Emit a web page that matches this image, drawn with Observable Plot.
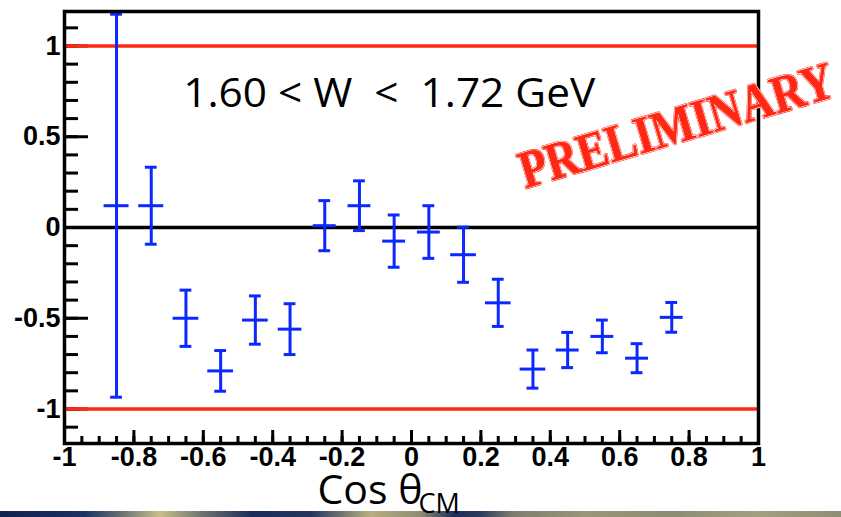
<!DOCTYPE html>
<html>
<head>
<meta charset="utf-8">
<script src="https://cdn.jsdelivr.net/npm/d3@7"></script>
<script src="https://cdn.jsdelivr.net/npm/@observablehq/plot@0.6"></script>
<style>
  html, body { margin: 0; padding: 0; background: #fff; }
  #wrap { position: relative; width: 841px; height: 517px; overflow: hidden; }
  #bar { position: absolute; left: 0; top: 511px; width: 841px; height: 6px; z-index: 0;
    background: linear-gradient(to right, #12224f 0%, #1b3263 10%, #5f6a70 14%, #c9bf8a 19%, #6f7470 24%, #1a2c5a 30%, #24365f 37%, #b7ae7f 44%, #8e8c72 50%, #1c2d58 54%, #2a3a5e 57%, #7d7e6c 61%, #9a9678 70%, #8c8b73 80%, #a49f80 90%, #8f8d75 100%); }
  #chart { position: relative; z-index: 1; }
  #chart svg { overflow: visible; }
</style>
</head>
<body>
<div id="wrap"><div id="bar"></div><div id="chart"></div></div>
<script>
// Bin centres (cos theta_CM)
const cosTheta = [-0.85, -0.75, -0.65, -0.55, -0.45, -0.35, -0.25, -0.15, -0.05, 0.05, 0.15, 0.25, 0.35, 0.45, 0.55, 0.65, 0.75];
// Measured values
const values   = [0.12, 0.12, -0.50, -0.79, -0.51, -0.56, 0.01, 0.12, -0.075, -0.025, -0.15, -0.415, -0.78, -0.675, -0.60, -0.72, -0.495];
// Vertical (statistical) errors
const yErrors  = [1.055, 0.212, 0.155, 0.112, 0.133, 0.140, 0.138, 0.137, 0.144, 0.145, 0.152, 0.130, 0.105, 0.097, 0.090, 0.080, 0.082];
// Horizontal half-widths
const xErrors  = [0.036, 0.036, 0.037, 0.037, 0.037, 0.034, 0.033, 0.033, 0.033, 0.033, 0.037, 0.037, 0.037, 0.033, 0.033, 0.033, 0.033];

// Reference lines
const limitLines = [1, -1];
const zeroLine = [0];

// Axis ticks and labels
const xTickValues = [-1, -0.8, -0.6, -0.4, -0.2, 0, 0.2, 0.4, 0.6, 0.8, 1];
const xTickLabels = ["-1", "-0.8", "-0.6", "-0.4", "-0.2", "0", "0.2", "0.4", "0.6", "0.8", "1"];
const xMinorTicks = d3.range(-20, 21).map(i => i / 20);
const yTickValues = [-1, -0.5, 0, 0.5, 1];
const yTickLabels = ["-1", "-0.5", "0", "0.5", "1"];
const yMinorTicks = d3.range(-11, 12).map(i => i / 10);

// Texts
const rangeLabel = "1.60 < W\u00a0\u00a0<\u00a0\u00a01.72 GeV";
const xLabelMain = "Cos θ";
const xLabelSub = "CM";
const stamp = "PRELIMINARY";

const points = cosTheta.map((x, i) => ({x, y: values[i], ey: yErrors[i], ex: xErrors[i]}));

const BLUE = "#0a28ff";
const RED = "#ff2814";
const capHalf = 0.017;
const SANS = "'Open Sans', Lato, sans-serif";
const SERIF = "'Liberation Serif', 'DejaVu Serif', serif";
const stampOpts = {x: 0.764, y: 0.56, text: d => d, rotate: -16.5, textAnchor: "middle", lineAnchor: "middle", fontFamily: SERIF, fontWeight: "bold", fontSize: 53};

const plot = Plot.plot({
  width: 841,
  height: 517,
  marginLeft: 64,
  marginRight: 83,
  marginTop: 11,
  marginBottom: 74,
  style: {fontFamily: "'Liberation Sans', Arial, sans-serif", fontSize: "27px", fontWeight: "bold", background: "transparent", overflow: "visible"},
  x: {domain: [-1, 1], label: null},
  y: {domain: [-1.19, 1.19], label: null},
  marks: [
    // inward ticks (ROOT style)
    Plot.axisY({ticks: yMinorTicks, tickSize: -14, tickFormat: () => "", strokeWidth: 3, label: null}),
    Plot.axisY({ticks: yTickValues, tickSize: -24, tickFormat: () => "", strokeWidth: 3, label: null}),
    Plot.axisX({ticks: xMinorTicks, tickSize: -7, tickFormat: () => "", strokeWidth: 3, label: null}),
    Plot.axisX({ticks: xTickValues, tickSize: -13, tickFormat: () => "", strokeWidth: 3, label: null}),
    // tick labels
    Plot.axisY({ticks: yTickValues, tickSize: 0, tickPadding: 4, tickFormat: d => yTickLabels[yTickValues.indexOf(d)], label: null}),
    Plot.axisX({ticks: xTickValues, tickSize: 0, tickPadding: 3, tickFormat: d => xTickLabels[xTickValues.indexOf(d)], label: null}),
    // reference lines
    Plot.ruleY(limitLines, {stroke: RED, strokeWidth: 3.5}),
    Plot.ruleY(zeroLine, {stroke: "black", strokeWidth: 3.5}),
    // error bars
    Plot.ruleX(points, {x: "x", y1: d => d.y - d.ey, y2: d => d.y + d.ey, stroke: BLUE, strokeWidth: 3}),
    Plot.ruleY(points, {y: "y", x1: d => d.x - d.ex, x2: d => d.x + d.ex, stroke: BLUE, strokeWidth: 3}),
    Plot.ruleY(points, {y: d => d.y + d.ey, x1: d => d.x - capHalf, x2: d => d.x + capHalf, stroke: BLUE, strokeWidth: 3}),
    Plot.ruleY(points, {y: d => d.y - d.ey, x1: d => d.x - capHalf, x2: d => d.x + capHalf, stroke: BLUE, strokeWidth: 3}),
    Plot.frame({stroke: "black", strokeWidth: 3.5}),
    // annotations
    Plot.text([rangeLabel], {x: -0.658, y: 0.665, text: d => d, textAnchor: "start", lineAnchor: "bottom", fontFamily: SANS, fontWeight: "normal", fontSize: 40, fill: "black"}),
    Plot.text([xLabelMain], {frameAnchor: "bottom", dx: -94, dy: 60, text: d => d, textAnchor: "start", lineAnchor: "bottom", fontFamily: SANS, fontWeight: "normal", fontSize: 41, fill: "black"}),
    Plot.text([xLabelSub], {frameAnchor: "bottom", dx: 7, dy: 69, text: d => d, textAnchor: "start", lineAnchor: "bottom", fontFamily: SANS, fontWeight: "normal", fontSize: 27, fill: "black"}),
    // PRELIMINARY stamp: red outline, white inline, red face
    Plot.text([stamp], {...stampOpts, fill: RED, stroke: RED, strokeWidth: 2.6}),
    Plot.text([stamp], {...stampOpts, fill: RED, stroke: "white", strokeWidth: 1.4}),
    Plot.text([stamp], {...stampOpts, fill: RED})
  ]
});

// fit text widths to the reference
d3.select(plot).selectAll("text").each(function() {
  const t = this.textContent;
  if (t === rangeLabel) { this.setAttribute("textLength", 412); this.setAttribute("lengthAdjust", "spacingAndGlyphs"); }
  if (t === stamp) { this.setAttribute("textLength", 326); this.setAttribute("lengthAdjust", "spacingAndGlyphs"); }
});

document.getElementById("chart").appendChild(plot);
</script>
</body>
</html>
